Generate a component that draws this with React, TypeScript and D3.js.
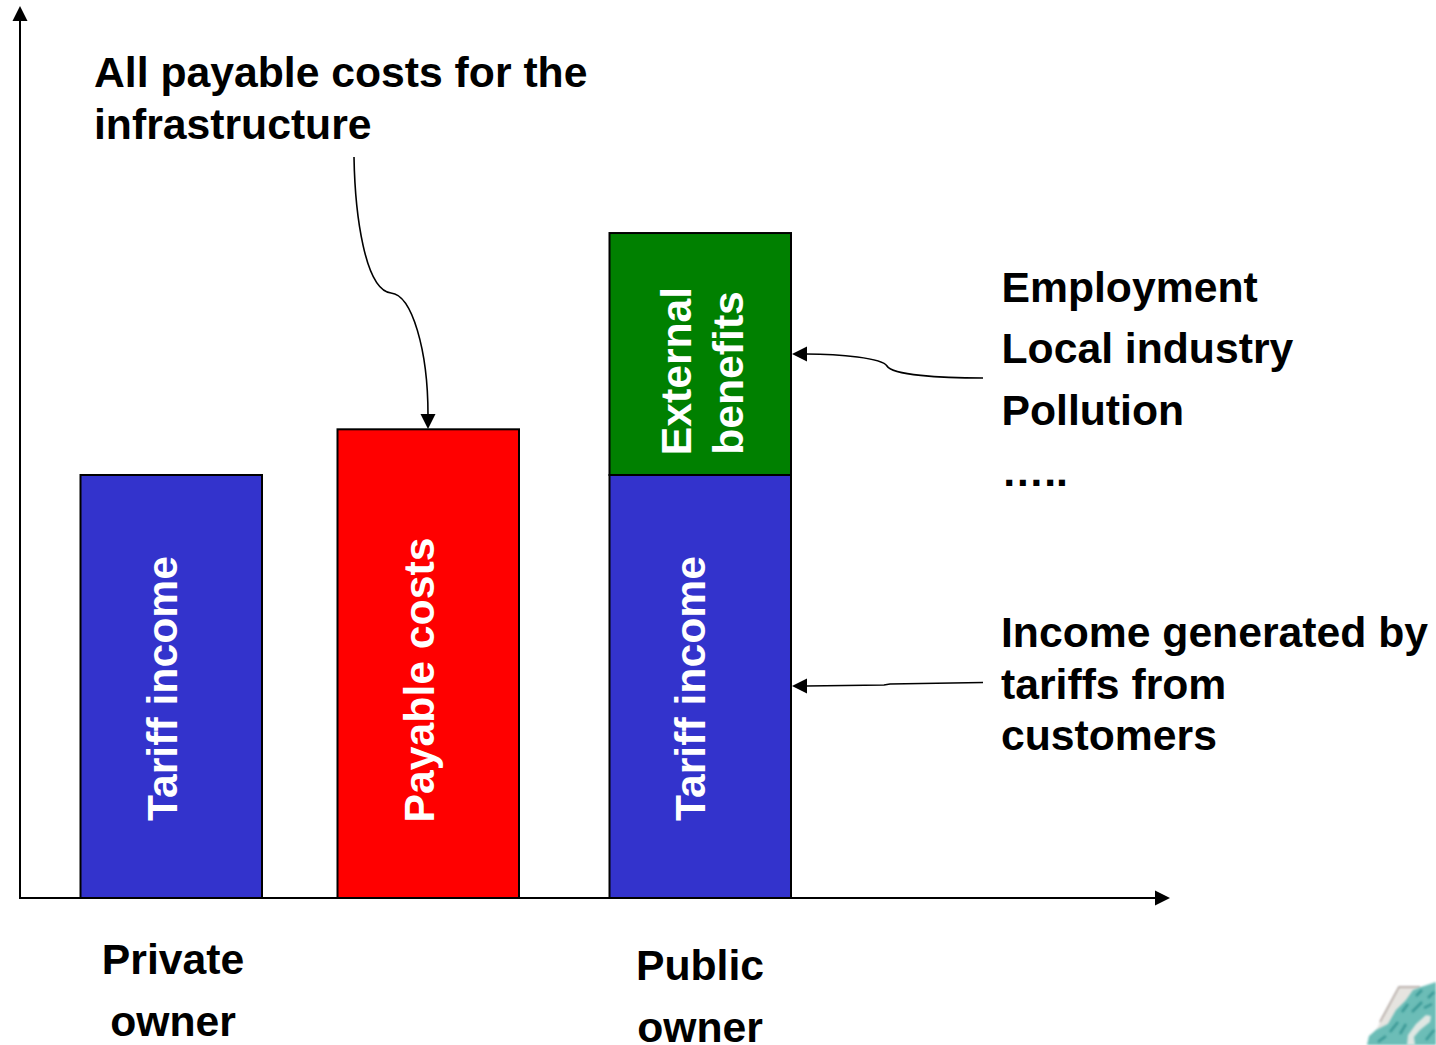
import React from "react";
import * as d3 from "d3";

const WIDTH = 1436;
const HEIGHT = 1045;

const owners = ["Private", "Costs", "Public"];
const tariffIncome = [100, 0, 100];
const payableCosts = [0, 110.8, 0];
const externalBenefits = [0, 0, 57.2];
const ownerLabels = [
  { lines: ["Private", "owner"], x: 173, y: 974 },
  { lines: ["Public", "owner"], x: 700, y: 980 },
];
const notesTop = ["All payable costs for the", "infrastructure"];
const notesImpacts = ["Employment", "Local industry", "Pollution", "….."];
const notesIncome = ["Income generated by", "tariffs from", "customers"];

const BLUE = "#3333cc";
const RED = "#ff0000";
const GREEN = "#008000";
const FONT = "'Liberation Sans', Arial, sans-serif";
const TEXT_SIZE = 42.7;

const yScale = d3.scaleLinear().domain([0, 210.4]).range([898, 8]);
const xScale = d3.scaleOrdinal<string, number>().domain(owners).range([80.5, 337.5, 609.5]);
const BAR_W = 181.5;

function Arrow({ x, y, dir }: { x: number; y: number; dir: "up" | "down" | "left" | "right" }) {
  const rot = { up: 0, right: 90, down: 180, left: 270 }[dir];
  return <path d="M0,0 L7.5,15 L-7.5,15 Z" transform={`translate(${x},${y}) rotate(${rot})`} fill="#000" />;
}

function Bar({ x, from, to, fill }: { x: number; from: number; to: number; fill: string }) {
  return (
    <rect
      x={x}
      y={yScale(to)}
      width={BAR_W}
      height={yScale(from) - yScale(to)}
      fill={fill}
      stroke="#000"
      strokeWidth={2}
    />
  );
}

function VerticalLabel({ x, y, text }: { x: number; y: number; text: string }) {
  return (
    <text
      transform={`translate(${x},${y}) rotate(-90)`}
      textAnchor="middle"
      fill="#fff"
      fontFamily={FONT}
      fontWeight={700}
      fontSize={TEXT_SIZE}
    >
      {text}
    </text>
  );
}

function Lines({ lines, x, y, step, anchor }: { lines: string[]; x: number; y: number; step: number; anchor?: string }) {
  return (
    <text fontFamily={FONT} fontWeight={700} fontSize={TEXT_SIZE} fill="#000" textAnchor={anchor ?? "start"}>
      {lines.map((l, i) => (
        <tspan key={i} x={x} y={y + i * step}>
          {l}
        </tspan>
      ))}
    </text>
  );
}

export default function App() {
  const leaderTop = d3.path();
  leaderTop.moveTo(354, 157);
  leaderTop.bezierCurveTo(355, 215, 365, 290, 391, 293);
  leaderTop.bezierCurveTo(412, 295, 428, 350, 428, 415);

  const leaderImpacts = d3.path();
  leaderImpacts.moveTo(983, 378);
  leaderImpacts.bezierCurveTo(940, 378, 892, 375, 887, 366);
  leaderImpacts.bezierCurveTo(882, 358, 840, 354, 806, 354);

  const leaderIncome = d3.path();
  leaderIncome.moveTo(983, 682.5);
  leaderIncome.lineTo(890, 684);
  leaderIncome.lineTo(884, 685);
  leaderIncome.lineTo(806, 686);

  return (
    <svg
      width={WIDTH}
      height={HEIGHT}
      viewBox={`0 0 ${WIDTH} ${HEIGHT}`}
      style={{ position: "absolute", left: 0, top: 0, background: "#fff" }}
    >
      <defs>
        <filter id="soft" x="-10%" y="-10%" width="120%" height="120%">
          <feGaussianBlur stdDeviation="0.9" />
        </filter>
        <filter id="mottle" x="-5%" y="-5%" width="110%" height="110%">
          <feGaussianBlur stdDeviation="1.2" />
        </filter>
      </defs>

      {/* Bars */}
      {owners.map((c, i) => {
        const x = xScale(c);
        return (
          <g key={c}>
            {tariffIncome[i] > 0 && <Bar x={x} from={0} to={tariffIncome[i]} fill={BLUE} />}
            {payableCosts[i] > 0 && <Bar x={x} from={0} to={payableCosts[i]} fill={RED} />}
            {externalBenefits[i] > 0 && (
              <Bar x={x} from={tariffIncome[i]} to={tariffIncome[i] + externalBenefits[i]} fill={GREEN} />
            )}
          </g>
        );
      })}

      <VerticalLabel x={177} y={688.5} text="Tariff income" />
      <VerticalLabel x={434} y={680} text="Payable costs" />
      <VerticalLabel x={705} y={688.5} text="Tariff income" />
      <VerticalLabel x={691} y={371} text="External" />
      <VerticalLabel x={743} y={373} text="benefits" />

      {/* Axes */}
      <line x1={20} y1={yScale(0)} x2={1155} y2={yScale(0)} stroke="#000" strokeWidth={2} />
      <line x1={20} y1={yScale(0) + 1} x2={20} y2={20} stroke="#000" strokeWidth={2} />
      <Arrow x={20} y={6} dir="up" />
      <Arrow x={1170} y={898} dir="right" />

      {/* Leader lines */}
      <path d={leaderTop.toString()} fill="none" stroke="#000" strokeWidth={1.6} />
      <Arrow x={428} y={429} dir="down" />
      <path d={leaderImpacts.toString()} fill="none" stroke="#000" strokeWidth={1.6} />
      <Arrow x={792} y={354} dir="left" />
      <path d={leaderIncome.toString()} fill="none" stroke="#000" strokeWidth={1.6} />
      <Arrow x={792} y={686} dir="left" />

      {/* Annotations */}
      <Lines lines={notesTop} x={94} y={87} step={52} />
      <Lines lines={notesImpacts} x={1001.5} y={302} step={61.3} />
      <Lines lines={notesIncome} x={1001} y={647} step={51.5} />
      {ownerLabels.map((o) => (
        <Lines key={o.lines[0]} lines={o.lines} x={o.x} y={o.y} step={62} anchor="middle" />
      ))}

      {/* Corner map emblem */}
      <g>
        <path d="M1399,987 L1425,987 L1400,1020 L1372,1040 L1380,1022 Z" fill="#e6e4e0" filter="url(#soft)" />
        <path d="M1420,987 L1399,987 L1380,1022" fill="none" stroke="#a89c96" strokeWidth={1.5} filter="url(#soft)" />
        <path
          d="M1436,982 L1424,986 L1413,990 L1406,1000 L1396,1010 L1388,1024 L1376,1030 L1369,1036 L1367,1045 L1436,1045 Z"
          fill="#6cbdb7"
          filter="url(#mottle)"
        />
        <path
          d="M1426,1015 L1431,1016 L1430,1022 L1420,1030 L1414,1037 L1415,1045 L1407,1045 L1408,1035 L1416,1024 Z"
          fill="#dfe7e3"
          filter="url(#soft)"
        />
        <path
          d="M1416,996 L1422,990 M1402,1012 L1408,1004 M1390,1032 L1398,1022 M1400,1034 L1406,1024 M1378,1042 L1386,1036 M1412,1012 L1422,1002 M1428,998 L1434,992 M1424,1008 L1432,1004 M1426,1040 L1434,1030"
          stroke="#3a9895"
          strokeWidth={2.5}
          fill="none"
          filter="url(#soft)"
        />
      </g>
    </svg>
  );
}
